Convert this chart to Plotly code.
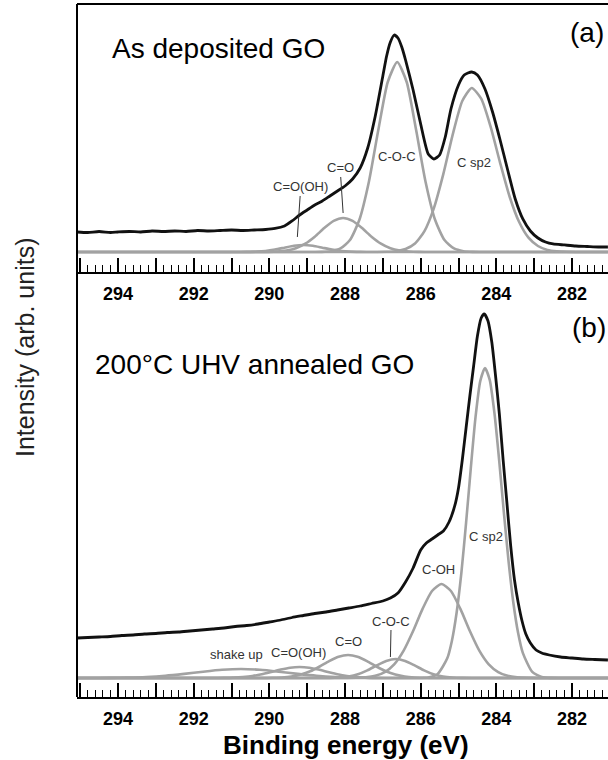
import plotly.graph_objects as go

# ---------------- data (binding energy in eV, intensity in arb. units) ----------------
# Panel (a): as deposited GO
be_a_meas = [295.08, 294.8, 294.5, 294.2, 294.0, 293.7, 293.4, 293.1, 292.8, 292.5, 292.2, 291.9,
             291.6, 291.3, 291.0, 290.7, 290.4, 290.1, 289.85, 289.6, 289.4, 289.2, 289.0, 288.8,
             288.6, 288.4, 288.2, 288.0, 287.8, 287.6, 287.4, 287.2, 287.0, 286.9, 286.8, 286.7,
             286.6, 286.5, 286.4, 286.2, 286.0, 285.8, 285.65, 285.5, 285.35, 285.2, 285.0, 284.85,
             284.65, 284.5, 284.3, 284.1, 283.9, 283.7, 283.5, 283.3, 283.1, 282.9, 282.7, 282.5,
             282.2, 281.9, 281.6, 281.3, 281.05]
int_a_meas = [20, 19.5, 20.5, 19.5, 20, 20.5, 20, 21, 20.5, 21, 20.5, 21.5,
              21, 21.5, 22, 21.5, 22, 22.5, 23.5, 26, 31, 37, 42, 47,
              51, 56, 61, 66, 73, 84, 104, 136, 176, 196, 210, 217,
              214, 205, 192, 162, 128, 98, 93, 97, 115, 143, 167, 177,
              180, 177, 163, 140, 112, 82, 53, 33, 21, 14, 10, 8,
              7, 6, 5.5, 5, 5]

be_a_cooh = [295.085, 290.85, 290.6, 290.35, 290.1, 289.85, 289.6, 289.35, 289.1, 288.85, 288.6,
             288.35, 288.1, 287.85, 287.6, 287.35, 281.05]
int_a_cooh = [0, 0, 0.1, 0.35, 1.0, 2.4, 4.3, 6.2, 7, 6.2, 4.3, 2.4, 1.0, 0.35, 0.1, 0, 0]

be_a_co = [295.085, 290.3, 290.05, 289.8, 289.55, 289.3, 289.05, 288.8, 288.55, 288.3, 288.05,
           287.8, 287.55, 287.3, 287.05, 286.8, 286.55, 286.3, 286.05, 285.8, 281.05]
int_a_co = [0, 0, 0.1, 0.45, 1.4, 3.7, 8.3, 15.3, 23.9, 31.1, 34,
            31.1, 23.9, 15.3, 8.3, 3.7, 1.4, 0.45, 0.1, 0, 0]

be_a_coc = [295.085, 288.87, 288.62, 288.37, 288.12, 287.87, 287.62, 287.37, 287.12, 286.87, 286.62,
            286.37, 286.12, 285.87, 285.62, 285.37, 285.12, 284.87, 284.62, 284.37, 281.05]
int_a_coc = [0, 0, 0.15, 0.8, 3.5, 11.9, 32.2, 70, 121.9, 170, 190,
             170, 121.9, 70, 32.2, 11.9, 3.5, 0.8, 0.15, 0, 0]

be_a_sp2 = [295.085, 287.15, 286.9, 286.65, 286.4, 286.15, 285.9, 285.65, 285.4, 285.15, 284.9,
            284.65, 284.4, 284.15, 283.9, 283.65, 283.4, 283.15, 282.9, 282.65, 282.4, 282.15,
            281.9, 281.05]
int_a_sp2 = [0, 0, 0.2, 0.8, 2.9, 8.4, 20.9, 43.9, 78.1, 117.9, 151,
             164, 153.3, 125.1, 89.2, 55.5, 30.2, 14.3, 6.0, 2.1, 0.7, 0.2,
             0, 0]

# Panel (b): 200 C UHV annealed GO
be_b_meas = [295.08, 294.8, 294.5, 294.2, 293.9, 293.6, 293.3, 293.0, 292.7, 292.4, 292.1, 291.8,
             291.5, 291.2, 290.9, 290.6, 290.3, 290.0, 289.7, 289.4, 289.1, 288.8, 288.5, 288.2,
             287.9, 287.6, 287.3, 287.0, 286.8, 286.6, 286.4, 286.2, 286.0, 285.85, 285.7, 285.55,
             285.4, 285.25, 285.1, 285.0, 284.9, 284.8, 284.7, 284.6, 284.5, 284.4, 284.32, 284.22,
             284.12, 284.02, 283.92, 283.82, 283.72, 283.62, 283.52, 283.42, 283.32, 283.22, 283.1,
             282.95, 282.8, 282.6, 282.3, 282.0, 281.7, 281.4, 281.05]
int_b_meas = [40, 40.5, 41, 41.5, 42.5, 43, 44, 44.5, 45.5, 46, 47, 48,
              49, 50, 51.5, 52.5, 54, 56, 58, 60.5, 62.5, 64.5, 66, 68,
              70, 72, 74.5, 77, 80, 85, 96, 110, 128, 135, 139, 143,
              147, 156, 172, 190, 218, 250, 282, 312, 342, 360, 364, 357,
              336, 302, 264, 218, 175, 132, 98, 75, 57, 44, 35,
              28, 25, 23, 21, 20, 19, 18.5, 18]

be_b_shake = [295.085, 294.75, 294.25, 293.75, 293.25, 292.75, 292.25, 291.75, 291.25, 290.75,
              290.25, 289.75, 289.25, 288.75, 288.25, 287.75, 287.25, 286.75, 281.05]
int_b_shake = [0, 0, 0.1, 0.4, 1.0, 2.2, 4.1, 6.3, 8.2, 9, 8.2, 6.3, 4.1, 2.2, 1.0, 0.4, 0.1, 0, 0]

be_b_cooh = [295.085, 291.45, 291.2, 290.95, 290.7, 290.45, 290.2, 289.95, 289.7, 289.45, 289.2,
             288.95, 288.7, 288.45, 288.2, 287.95, 287.7, 287.45, 287.2, 286.95, 281.05]
int_b_cooh = [0, 0, 0.1, 0.4, 1.0, 2.0, 3.7, 6.0, 8.4, 10.3, 11,
              10.3, 8.4, 6.0, 3.7, 2.0, 1.0, 0.4, 0.1, 0, 0]

be_b_co = [295.085, 290.17, 289.92, 289.67, 289.42, 289.17, 288.92, 288.67, 288.42, 288.17, 287.92,
           287.67, 287.42, 287.17, 286.92, 286.67, 286.42, 286.17, 285.92, 285.67, 281.05]
int_b_co = [0, 0, 0.2, 0.5, 1.4, 3.4, 6.7, 11.5, 16.9, 21.3, 23,
            21.3, 16.9, 11.5, 6.7, 3.4, 1.4, 0.5, 0.2, 0, 0]

be_b_coc = [295.085, 288.66, 288.41, 288.16, 287.91, 287.66, 287.41, 287.16, 286.91, 286.66,
            286.41, 286.16, 285.91, 285.66, 285.41, 285.16, 284.91, 284.66, 281.05]
int_b_coc = [0, 0, 0.1, 0.5, 1.5, 3.7, 7.6, 12.6, 17.1, 19, 17.1, 12.6, 7.6, 3.7, 1.5, 0.5, 0.1, 0, 0]

be_b_coh = [295.085, 287.95, 287.7, 287.45, 287.2, 286.95, 286.7, 286.45, 286.2, 285.95, 285.7,
            285.45, 285.2, 284.95, 284.7, 284.45, 284.2, 283.95, 283.7, 283.45, 283.2, 282.95, 281.05]
int_b_coh = [0, 0, 0.2, 0.7, 2.2, 5.9, 13.7, 27.4, 47, 69.1, 87,
             94, 87, 69.1, 47, 27.4, 13.7, 5.9, 2.2, 0.7, 0.2, 0, 0]

be_b_sp2 = [295.085, 286.05, 285.8, 285.55, 285.3, 285.175, 285.05, 284.925, 284.8, 284.675, 284.55,
            284.425, 284.3, 284.175, 284.05, 283.925, 283.8, 283.675, 283.55, 283.425, 283.3,
            283.05, 282.8, 282.55, 282.3, 281.05]
int_b_sp2 = [0, 0, 0.6, 4.1, 19.4, 37.1, 65.2, 104.9, 155, 209.9, 260.8,
             296.9, 310, 298.1, 265, 217.6, 165.2, 116.1, 75.3, 45.2, 25.1,
             6.1, 1.1, 0.1, 0, 0]

tick_vals = [295, 294, 293, 292, 291, 290, 289, 288, 287, 286, 285, 284, 283, 282, 281]
tick_text = ["", "294", "", "292", "", "290", "", "288", "", "286", "", "284", "", "282", ""]

labels_a = ["C=O(OH)", "C=O", "C-O-C", "C sp2"]
labels_b = ["shake up", "C=O(OH)", "C=O", "C-O-C", "C-OH", "C sp2"]
title_a = "As deposited GO"
title_b = "200°C UHV annealed GO"

# ---------------- figure ----------------
FONT = "Liberation Sans, Arial, Helvetica, sans-serif"
BLACK = "#111111"
GRAY = "#a2a2a2"
LBL = "#333333"

fig = go.Figure()


def add_line(be, inten, xa, ya, color, width):
    fig.add_trace(go.Scatter(
        x=be, y=inten, mode="lines", xaxis=xa, yaxis=ya,
        line=dict(color=color, width=width, shape="spline", smoothing=0.6),
        hoverinfo="skip", showlegend=False))


for be, it in [(be_a_cooh, int_a_cooh), (be_a_co, int_a_co), (be_a_coc, int_a_coc), (be_a_sp2, int_a_sp2)]:
    add_line(be, it, "x2", "y2", GRAY, 2.6)
add_line(be_a_meas, int_a_meas, "x2", "y2", BLACK, 2.8)

for be, it in [(be_b_shake, int_b_shake), (be_b_cooh, int_b_cooh), (be_b_co, int_b_co),
               (be_b_coc, int_b_coc), (be_b_coh, int_b_coh), (be_b_sp2, int_b_sp2)]:
    add_line(be, it, "x", "y", GRAY, 2.6)
add_line(be_b_meas, int_b_meas, "x", "y", BLACK, 2.8)

xaxis_common = dict(
    range=[295.085, 281.048], showline=True, linecolor="black", linewidth=2,
    ticks="inside", tickmode="array", tickvals=tick_vals, ticktext=tick_text,
    ticklen=14, tickwidth=1.5, tickcolor="black",
    tickfont=dict(family=FONT, size=18, color="black", weight="bold"),
    minor=dict(ticks="inside", dtick=0.2, tick0=0, ticklen=7, tickwidth=1, tickcolor="black"),
    showgrid=False, zeroline=False, mirror=False, fixedrange=True, ticklabelstandoff=4,
)

fig.update_layout(
    width=608, height=760,
    margin=dict(l=77, r=0, t=4, b=63),
    paper_bgcolor="white", plot_bgcolor="white",
    showlegend=False,
    xaxis=dict(xaxis_common, anchor="y", domain=[0, 1]),
    yaxis=dict(domain=[0, 0.5729], range=[-19, 378], visible=False, fixedrange=True),
    xaxis2=dict(xaxis_common, anchor="y2", domain=[0, 1]),
    yaxis2=dict(domain=[0.6133, 1], range=[-20, 248], visible=False, fixedrange=True),
    font=dict(family=FONT, color="black"),
)

# outer frame (left and top; right side runs beyond the picture)
fig.add_shape(type="line", xref="paper", yref="paper", x0=0, x1=0, y0=0, y1=1,
              line=dict(color="black", width=2))
fig.add_shape(type="line", xref="paper", yref="paper", x0=0, x1=1, y0=1, y1=1,
              line=dict(color="black", width=2))

ann = []
big = dict(family=FONT, size=28, color="black")
ann.append(dict(x=294.21, y=204, xref="x2", yref="y2", text=title_a, showarrow=False,
                xanchor="left", yanchor="middle", font=big))
ann.append(dict(x=282.11, y=220, xref="x2", yref="y2", text="(a)", showarrow=False,
                xanchor="left", yanchor="middle", font=big))
ann.append(dict(x=294.66, y=313, xref="x", yref="y", text=title_b, showarrow=False,
                xanchor="left", yanchor="middle", font=big))
ann.append(dict(x=282.05, y=350, xref="x", yref="y", text="(b)", showarrow=False,
                xanchor="left", yanchor="middle", font=big))

small = dict(family=FONT, size=13, color=LBL)
# panel (a) component labels
ann.append(dict(x=289.26, y=15, ax=289.17, ay=65, xref="x2", yref="y2", axref="x2", ayref="y2",
                text=labels_a[0], showarrow=True, arrowhead=0, arrowwidth=1, arrowcolor=LBL,
                standoff=0, font=small))
ann.append(dict(x=288.05, y=39, ax=288.13, ay=84, xref="x2", yref="y2", axref="x2", ayref="y2",
                text=labels_a[1], showarrow=True, arrowhead=0, arrowwidth=1, arrowcolor=LBL,
                standoff=0, font=small))
ann.append(dict(x=286.63, y=95, xref="x2", yref="y2", text=labels_a[2], showarrow=False, font=small))
ann.append(dict(x=284.60, y=89, xref="x2", yref="y2", text=labels_a[3], showarrow=False, font=small))
# panel (b) component labels
ann.append(dict(x=290.87, y=24, xref="x", yref="y", text=labels_b[0], showarrow=False, font=small))
ann.append(dict(x=289.22, y=26, xref="x", yref="y", text=labels_b[1], showarrow=False, font=small))
ann.append(dict(x=287.90, y=37, xref="x", yref="y", text=labels_b[2], showarrow=False, font=small))
ann.append(dict(x=286.80, y=21, ax=286.78, ay=57, xref="x", yref="y", axref="x", ayref="y",
                text=labels_b[3], showarrow=True, arrowhead=0, arrowwidth=1, arrowcolor=LBL,
                standoff=0, font=small))
ann.append(dict(x=285.52, y=108, xref="x", yref="y", text=labels_b[4], showarrow=False, font=small))
ann.append(dict(x=284.28, y=141, xref="x", yref="y", text=labels_b[5], showarrow=False, font=small))

# axis titles
ann.append(dict(x=0.5075, y=-0.0693, xref="paper", yref="paper", text="Binding energy (eV)",
                showarrow=False, xanchor="center", yanchor="middle",
                font=dict(family=FONT, size=26, color="black", weight="bold")))
ann.append(dict(x=-0.0979, y=0.505, xref="paper", yref="paper", text="Intensity (arb. units)",
                showarrow=False, textangle=-90, xanchor="center", yanchor="middle",
                font=dict(family=FONT, size=25, color="#222222")))

fig.update_layout(annotations=ann)

fig.write_html("out.html")
